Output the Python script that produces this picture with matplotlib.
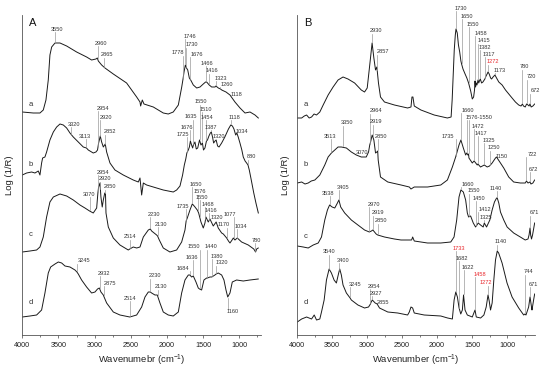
import numpy as np
import matplotlib
matplotlib.use("Agg")
import matplotlib.pyplot as plt
from matplotlib import transforms

plt.rcParams['font.family'] = ['Liberation Sans', 'DejaVu Sans']
plt.rcParams['mathtext.default'] = 'regular'

# ---- spectra: (wavenumber cm-1, Log(1/R) incl. stacking offset, a.u.)
# panel A
A_a = [(4000,223),(3848,222),(3756,222),(3710,225),(3673,235),(3641,255),(3618,280),(3594,288),
       (3548,292),(3479,292),(3387,289),(3249,283),(3111,278),(3042,275),(2982,276),(2963,277),
       (2949,274),(2903,270),(2857,267),(2742,261),(2558,252),(2419,238),(2373,233),(2364,229),
       (2341,235),(2318,231),(2189,228),(2051,222),(1982,221),(1913,223),(1843,230),(1796,248),
       (1778,256),(1764,263),(1746,270),(1730,267),(1713,265),(1691,257),(1672,255),(1636,250),
       (1589,247),(1543,248),(1498,251),(1466,253),(1451,253),(1416,250),(1382,248),(1336,248),
       (1323,249),(1290,247),(1260,246),(1243,245),(1184,243),(1129,240),(1060,233),(990,227),
       (921,222),(852,223),(783,220),(737,217)]
A_b = [(4000,160),(3940,162),(3871,163),(3825,162),(3779,164),(3756,160),(3733,172),(3719,177),
       (3687,178),(3664,183),(3618,195),(3571,203),(3525,208),(3479,211),(3433,210),(3387,207),
       (3341,202),(3295,198),(3226,193),(3157,188),(3113,187),(3088,185),(3019,182),(2982,183),
       (2960,185),(2945,192),(2922,199),(2903,193),(2880,188),(2853,191),(2834,183),(2788,172),
       (2719,165),(2604,160),(2466,155),(2396,153),(2373,157),(2350,140),(2327,152),(2281,150),
       (2189,148),(2051,145),(1913,143),(1866,145),(1820,149),(1784,160),(1760,170),(1740,176),
       (1725,182),(1705,185),(1690,188),(1676,194),(1660,190),(1645,187),(1635,190),(1613,193),
       (1595,186),(1575,187),(1550,195),(1530,190),(1510,192),(1495,185),(1475,187),(1454,194),
       (1440,195),(1420,199),(1400,202),(1387,203),(1370,198),(1355,192),(1335,194),(1320,195),
       (1300,189),(1280,188),(1244,192),(1200,198),(1175,202),(1150,206),(1118,210),(1095,209),
       (1074,206),(1050,200),(1034,202),(1015,198),(991,192),(965,185),(945,178),(920,174),
       (899,172),(880,170),(862,165),(840,157),(800,142),(770,132),(737,122)]
A_c = [(4000,83),(3894,84),(3802,85),(3756,88),(3710,98),(3664,118),(3618,133),(3571,138),
       (3479,141),(3387,139),(3295,135),(3203,130),(3134,127),(3070,124),(3019,122),(2972,127),
       (2955,142),(2945,148),(2926,152),(2913,138),(2895,128),(2880,135),(2860,142),(2850,141),
       (2843,122),(2811,108),(2742,97),(2650,90),(2535,85),(2514,86),(2466,88),(2419,87),
       (2373,88),(2327,98),(2258,105),(2230,106),(2212,104),(2143,100),(2130,99),(2106,95),
       (2051,87),(1959,83),(1866,85),(1797,93),(1751,105),(1735,114),(1719,117),(1682,125),
       (1650,131),(1636,130),(1613,128),(1581,125),(1562,122),(1530,113),(1498,107),(1475,112),
       (1461,118),(1429,113),(1406,116),(1360,109),(1320,113),(1291,107),(1244,102),(1221,101),
       (1175,97),(1150,94),(1129,92),(1100,95),(1083,97),(1060,95),(1028,97),(968,93),(876,90),
       (800,86),(775,83),(760,86),(738,87)]
A_d = [(4000,18),(3894,19),(3802,20),(3733,25),(3687,42),(3641,62),(3608,68),(3548,71),
       (3502,73),(3456,72),(3410,69),(3341,68),(3272,65),(3245,63),(3226,61),(3180,55),
       (3111,48),(3042,42),(2995,43),(2960,46),(2935,47),(2913,43),(2880,40),(2875,39),
       (2834,32),(2742,23),(2650,20),(2514,18),(2419,20),(2350,28),(2304,38),(2258,43),
       (2230,43),(2212,42),(2166,40),(2134,40),(2097,32),(2051,23),(1982,20),(1913,19),
       (1843,23),(1797,42),(1751,55),(1705,60),(1684,60),(1659,58),(1636,59),(1599,53),
       (1567,47),(1550,46),(1521,45),(1489,55),(1452,57),(1440,57),(1406,58),(1380,58),
       (1337,60),(1320,61),(1291,62),(1244,60),(1212,55),(1184,45),(1160,38),(1129,42),
       (1097,53),(1037,55),(945,54),(853,55),(738,56)]
# panel B
B_a = [(4000,217),(3938,217),(3900,219),(3867,220),(3830,217),(3796,218),(3760,221),(3725,220),
       (3678,223),(3630,230),(3559,240),(3488,248),(3417,255),(3346,258),(3275,256),(3180,252),
       (3085,245),(3038,243),(3000,247),(2967,268),(2930,292),(2905,277),(2881,265),(2862,268),
       (2839,252),(2810,238),(2753,233),(2611,230),(2422,227),(2374,228),(2360,238),(2346,238),
       (2327,229),(2232,225),(2042,220),(1853,217),(1800,218),(1785,235),(1770,260),(1755,285),
       (1740,300),(1730,306),(1712,302),(1695,290),(1677,283),(1660,274),(1650,271),(1630,266),
       (1600,261),(1575,257),(1550,252),(1520,244),(1497,236),(1478,238),(1465,245),(1458,254),
       (1450,248),(1440,252),(1430,250),(1415,255),(1405,252),(1395,254),(1382,256),(1364,252),
       (1345,253),(1317,256),(1300,259),(1285,261),(1272,263),(1255,261),(1235,257),(1221,256),
       (1200,258),(1173,260),(1150,257),(1118,253),(1070,250),(1022,245),(975,241),(928,237),
       (880,233),(833,230),(800,229),(780,231),(765,229),(740,228),(720,231),(700,230),
       (685,229),(672,231),(655,228),(630,229),(605,231)]
B_b = [(4000,152),(3938,153),(3890,151),(3844,152),(3800,154),(3749,155),(3678,160),(3607,170),
       (3559,178),(3512,182),(3464,185),(3417,188),(3370,188),(3298,187),(3227,183),(3156,180),
       (3085,178),(3070,178),(3014,178),(2981,183),(2964,190),(2952,193),(2929,200),(2905,195),
       (2881,182),(2862,183),(2850,184),(2843,175),(2810,158),(2706,153),(2516,150),(2398,148),
       (2374,146),(2327,148),(2137,148),(1948,150),(1853,155),(1782,168),(1735,178),(1687,190),
       (1660,195),(1625,187),(1592,180),(1576,182),(1560,180),(1550,181),(1545,177),(1497,172),
       (1472,174),(1459,173),(1426,170),(1417,171),(1379,168),(1325,170),(1284,168),(1250,169),
       (1213,172),(1165,177),(1150,178),(1132,176),(1094,172),(1047,167),(976,158),(905,153),
       (810,152),(739,152),(722,154),(700,152),(672,153),(658,151),(630,152),(605,155)]
B_c = [(4000,89),(3915,88),(3844,87),(3772,90),(3701,92),(3654,98),(3607,115),(3569,125),
       (3538,130),(3502,128),(3464,127),(3426,132),(3405,135),(3379,128),(3322,122),(3227,115),
       (3133,110),(3038,105),(2970,103),(2940,104),(2919,105),(2872,101),(2850,100),(2753,98),
       (2611,96),(2516,95),(2365,95),(2350,98),(2327,94),(2137,92),(1948,92),(1805,93),
       (1758,98),(1720,115),(1687,138),(1660,145),(1625,143),(1592,135),(1568,122),(1550,118),
       (1521,119),(1483,112),(1450,108),(1430,110),(1412,112),(1379,110),(1341,108),(1325,112),
       (1293,108),(1246,115),(1213,125),(1180,133),(1149,137),(1140,137),(1118,132),(1094,123),
       (1047,115),(999,108),(905,102),(810,98),(740,95),(700,96),(685,100),(671,107),(662,100),
       (650,96),(635,100),(620,106),(605,112)]
B_d = [(4000,13),(3938,16),(3867,18),(3796,16),(3758,20),(3725,15),(3678,16),(3654,23),
       (3616,35),(3583,55),(3545,66),(3512,62),(3474,55),(3441,52),(3408,62),(3393,66),
       (3370,60),(3346,50),(3298,42),(3245,37),(3227,35),(3133,30),(3038,27),(2981,28),
       (2954,31),(2943,33),(2927,35),(2886,32),(2858,31),(2824,27),(2706,23),(2564,22),
       (2422,20),(2398,23),(2374,28),(2350,27),(2327,22),(2185,20),(1948,19),(1850,17),
       (1782,16),(1757,35),(1733,43),(1710,38),(1686,27),(1662,21),(1639,25),(1622,40),
       (1601,25),(1568,20),(1497,18),(1458,25),(1440,18),(1378,17),(1331,20),(1298,28),
       (1272,40),(1255,34),(1236,25),(1213,32),(1189,55),(1165,75),(1140,84),(1120,82),
       (1071,72),(1000,52),(928,38),(833,27),(762,20),(744,21),(729,20),(691,28),(671,38),
       (650,28),(643,25),(620,35),(605,41)]

# ---- band labels (text = band position in cm-1)
A_a_peaks = ["3550","2960","2865","1778","1746","1730","1676","1466","1416","1323","1260","1118"]
A_b_peaks = ["3320","3113","2954","2920","2852","1725","1676","1635","1550","1510","1454","1387",
             "1320","1118","1034","880"]
A_c_peaks = ["3070","2954","2920","2850","2514","2230","2130","1735","1650","1576","1550","1468",
             "1416","1320","1170","1077","1034","780"]
A_d_peaks = ["3245","2932","2875","2514","2230","2130","1684","1636","1550","1440","1380","1320","1160"]
B_a_peaks = ["2930","2857","1730","1650","1550","1458","1415","1382","1317","1272","1173","780","720","672"]
B_b_peaks = ["3513","3350","3070","2964","2919","2850","1735","1660","1576-1550","1472","1417",
             "1325","1250","1150","722","672"]
B_c_peaks = ["3538","3405","2970","2919","2850","1660","1550","1450","1412","1325","1140","671"]
B_d_peaks = ["3540","3400","3245","2954","2927","2855","1733","1682","1622","1458","1272","1140","744","671"]
red_peaks = {("B", "a", "1272"), ("B", "d", "1733"), ("B", "d", "1458"), ("B", "d", "1272")}

# label placement: (height of label centre, horizontal shift of text in px)
A_a_lab = [(305.7,2),(291.7,3),(280,3),(282,-5),(299,5),(290,5),(280.7,6),(271.7,1),(264.3,3),
           (256.7,5),(250.7,6),(241,6)]
A_b_lab = [(211,3),(199,-2),(226.7,5),(217.7,6),(203.3,5),(200.7,-4),(207.7,-4),(218.3,-3),
           (233.3,1),(225.7,3),(217.7,1),(207.7,0),(198.3,3),(217.7,4),(203.3,5),(178.3,3)]
A_c_lab = [(141,-1),(162.7,5),(156,5),(148,5),(98.3,0),(121,4),(111,3.5),(129,-3.5),(151,4),
           (143.3,2.5),(137.7,2),(131,2),(124.8,1.5),(117.5,1),(110,-3.7),(121,-3.7),(109,4),(95,1)]
A_d_lab = [(74,7),(61.7,4),(51.7,6),(36.7,0),(59.3,4.5),(48.3,3.5),(66.7,-7),(77.7,-1.5),
           (88.3,-6),(88.3,3.5),(79,5),(72.3,5.5),(23.3,5)]
B_a_lab = [(304.3,4),(283.3,5.5),(326.7,5),(319,5),(311,4),(301.7,5.5),(294.3,6),(287.7,5),
           (281,4),(273.3,5),(265,5),(268.3,2),(258.3,5),(244.3,5)]
B_b_lab = [(199,-1.5),(212.3,4),(182.3,0),(224.3,6.5),(213.3,3.5),(199,3.5),(199,-7.5),(225,6.5),
           (217.7,12.5),(209,4),(201.7,3.5),(195,4.5),(187.3,4.5),(179,5.5),(181,5.5),(165.7,3)]
B_c_lab = [(141.7,-1.5),(147.7,4),(131,5),(122.3,5),(114.3,3),(151,6.5),(144.3,5),(136.7,3.5),
           (125.7,6.5),(117.7,2),(146.7,-1.7),(122.3,4.5)]
B_d_lab = [(83.3,0),(75,4),(51,5),(49,4),(41.7,4),(32.7,5.5),(86.7,3.5),(76.7,3),(67.7,4),
           (61,4.5),(52.3,-2.5),(93.3,3),(63.3,4),(50.7,3.5)]

curve_names = ["a", "b", "c", "d"]
A_name_y = [231, 171, 100, 32]
B_name_y = [231, 171, 98, 33]

fig = plt.figure(figsize=(5.5, 3.73), dpi=100)
axA = fig.add_axes([22.3/550, 1-335/373, 238.7/550, 320/373])
axB = fig.add_axes([297.3/550, 1-335/373, 237.7/550, 320/373])

line_col = '#1a1a1a'
tick_col = '#9a9a9a'
txt_col = '#333333'
red = '#e8262b'


def draw(ax, panel, name, curve, peaks, labs):
    wn = np.array([p[0] for p in curve], dtype=float)
    y = np.array([p[1] for p in curve], dtype=float)
    ax.plot(wn, y, color=line_col, lw=0.7)
    order = np.argsort(wn)
    for txt, (ly, dx) in zip(peaks, labs):
        for v in txt.split('-'):
            x = float(v)
            yc = np.interp(x, wn[order], y[order])
            if ly > yc:
                if ly - 3 > yc + 0.8:
                    ax.plot([x, x], [yc + 0.8, ly - 3], color=tick_col, lw=0.5, clip_on=False)
            else:
                ax.plot([x, x], [yc - 0.8, ly + 3], color=tick_col, lw=0.5, clip_on=False)
        x0 = float(txt.split('-')[0])
        tr = transforms.offset_copy(ax.transData, fig=fig, x=dx, y=0, units='dots')
        col = red if (panel, name, txt) in red_peaks else txt_col
        ax.text(x0, ly, txt, transform=tr, ha='center', va='center', fontsize=4.1, color=col)


for ax, panel, curves, peaks, labs, name_y, xr in [
        (axA, "A", [A_a, A_b, A_c, A_d], [A_a_peaks, A_b_peaks, A_c_peaks, A_d_peaks],
         [A_a_lab, A_b_lab, A_c_lab, A_d_lab], A_name_y, 700),
        (axB, "B", [B_a, B_b, B_c, B_d], [B_a_peaks, B_b_peaks, B_c_peaks, B_d_peaks],
         [B_a_lab, B_b_lab, B_c_lab, B_d_lab], B_name_y, 600)]:
    for nm, cv, pk, lb, ny in zip(curve_names, curves, peaks, labs, name_y):
        draw(ax, panel, nm, cv, pk, lb)
        ax.text(0.028, ny, nm, transform=ax.get_yaxis_transform(), fontsize=5.5,
                color=txt_col, ha='left', va='center')
    ax.set_xlim(4000, xr)
    ax.set_ylim(0, 320)
    ax.set_xticks([4000, 3500, 3000, 2500, 2000, 1500, 1000])
    ax.set_xticks([3750, 3250, 2750, 2250, 1750, 1250, 750], minor=True)
    ax.tick_params(axis='x', which='major', length=2, width=0.5, direction='out',
                   labelsize=5.2, colors='#444444', labelcolor='#222222', pad=3)
    ax.tick_params(axis='x', which='minor', length=1.2, width=0.5, direction='out', colors='#444444')
    ax.set_yticks([])
    for s in ['top', 'right']:
        ax.spines[s].set_visible(False)
    for s in ['left', 'bottom']:
        ax.spines[s].set_linewidth(0.6)
        ax.spines[s].set_color('#555555')
    ax.text(0.045, 0.975, panel, transform=ax.transAxes, fontsize=8, color='#111111',
            ha='center', va='center')

axA.set_xlabel("Wavenumebr (cm$^{-1}$)", fontsize=6.8, color='#222222', labelpad=3)
axB.set_xlabel("Wavenumber (cm$^{-1}$)", fontsize=6.8, color='#222222', labelpad=3)
fig.text(10/550, 1-175/373, "Log (1/R)", rotation=90, fontsize=6.8, color='#222222',
         ha='center', va='center')
fig.text(285/550, 1-175/373, "Log (1/R)", rotation=90, fontsize=6.8, color='#222222',
         ha='center', va='center')

fig.savefig("out.png", dpi=100)
